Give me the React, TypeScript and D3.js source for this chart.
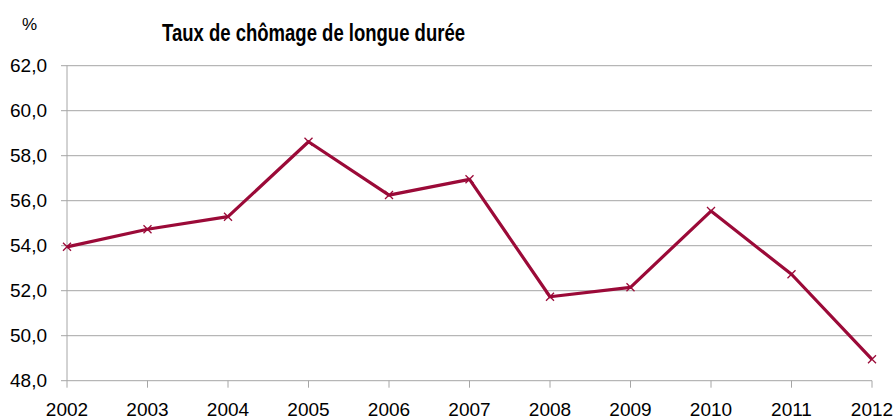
import React from "react";
import * as d3 from "d3";

const years = ["2002", "2003", "2004", "2005", "2006", "2007", "2008", "2009", "2010", "2011", "2012"];
const values = [53.95, 54.73, 55.29, 58.62, 56.25, 56.95, 51.73, 52.15, 55.54, 52.73, 48.95];
const yTicks = [48, 50, 52, 54, 56, 58, 60, 62];
const title = "Taux de chômage de longue durée";
const unit = "%";

const W = 895, H = 419;
const FONT = "'Liberation Sans', Arial, sans-serif";
const RED = "#9b0a38";

export default function App() {
  const x = d3.scalePoint<string>().domain(years).range([67, 872]);
  const y = d3.scaleLinear().domain([48, 62]).range([380.7, 65.7]);
  const line = d3.line<number>().x((_, i) => x(years[i])!).y((d) => y(d));
  const fmt = (v: number) => v.toFixed(1).replace(".", ",");
  const s = 4;
  return (
    <svg width={W} height={H} style={{ position: "absolute", left: 0, top: 0 }} fontFamily={FONT}>
      <rect width={W} height={H} fill="#fff" />
      {yTicks.map((t) => (
        <g key={t}>
          <line x1={61} x2={872} y1={y(t)} y2={y(t)} stroke="#a6a6a6" strokeWidth={1} />
          <text x={47} y={y(t)} dy="0.35em" textAnchor="end" fontSize={19} fill="#000">{fmt(t)}</text>
        </g>
      ))}
      <line x1={67} x2={67} y1={y(62)} y2={y(48)} stroke="#a6a6a6" strokeWidth={1} />
      {years.map((yr) => (
        <g key={yr}>
          <line x1={x(yr)} x2={x(yr)} y1={y(48)} y2={y(48) + 7} stroke="#a6a6a6" strokeWidth={1} />
          <text x={x(yr)} y={416} textAnchor="middle" fontSize={19} fill="#000">{yr}</text>
        </g>
      ))}
      <path d={line(values)!} fill="none" stroke={RED} strokeWidth={3.2} strokeLinejoin="round" />
      {values.map((v, i) => {
        const cx = x(years[i])!, cy = y(v);
        return (
          <path key={i} d={`M${cx - s},${cy - s}L${cx + s},${cy + s}M${cx - s},${cy + s}L${cx + s},${cy - s}`} stroke={RED} strokeWidth={1.3} fill="none" />
        );
      })}
      <text x={22} y={30} fontSize={17} fill="#000">{unit}</text>
      <text x={162} y={40.5} fontSize={23} fontWeight="bold" textLength={303} lengthAdjust="spacingAndGlyphs" fill="#000">{title}</text>
    </svg>
  );
}
